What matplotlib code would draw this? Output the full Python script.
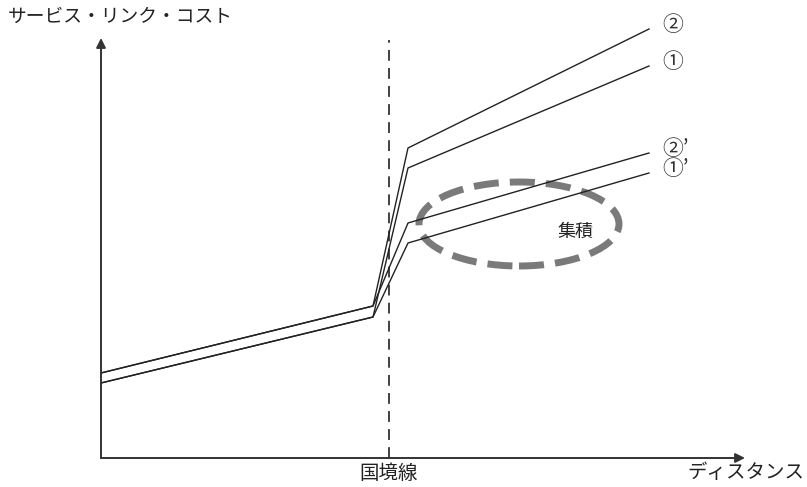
import matplotlib
matplotlib.use('Agg')
import matplotlib.pyplot as plt
from matplotlib.patches import Ellipse

plt.rcParams['font.family'] = ['Noto Sans CJK JP', 'DejaVu Sans']

# distance positions of the line vertices (axis origin = 0)
dist = [0, 272, 307, 548]
border_x = 288

# cost of each line at the vertices above
line_2 = [85, 152, 310, 429]
line_1 = [75, 141, 290, 392]
line_2p = [85, 152, 235, 305]
line_1p = [75, 141, 215, 285]

series = [
    ('②', line_2),
    ('①', line_1),
    ('②’', line_2p),
    ('①’', line_1p),
]

# agglomeration ellipse (centre, width, height)
cluster_center = (418, 234)
cluster_w = 200
cluster_h = 84

W, H = 807, 487
fig = plt.figure(figsize=(W / 100, H / 100), dpi=100)
ax = fig.add_axes([101 / W, 29 / H, 644 / W, 420 / H])
ax.set_xlim(0, 644)
ax.set_ylim(0, 420)
ax.axis('off')

# axes with arrows
ax.annotate('', xy=(1, 0), xytext=(0, 0), xycoords='axes fraction',
            arrowprops=dict(arrowstyle='-|>', color='#333333', lw=1.4,
                            mutation_scale=14, shrinkA=0, shrinkB=0))
ax.annotate('', xy=(0, 1), xytext=(0, 0), xycoords='axes fraction',
            arrowprops=dict(arrowstyle='-|>', color='#333333', lw=1.4,
                            mutation_scale=14, shrinkA=0, shrinkB=0))

# border line
ax.plot([border_x, border_x], [0, 418], color='#333333', lw=1.3,
        linestyle=(0, (6, 4)), clip_on=False)

for label, ys in series:
    ax.plot(dist, ys, color='#222222', lw=1.0, clip_on=False)
    ax.text(dist[-1] + 13, ys[-1] + 4, label, fontsize=15, ha='left',
            va='center', color='#333333', clip_on=False)

ell = Ellipse(cluster_center, cluster_w, cluster_h, fill=False,
              edgecolor='#7a7a7a', lw=5, linestyle=(0, (3.6, 1.6)))
ax.add_patch(ell)
ax.text(474, 226, '集積', fontsize=13, ha='center', va='center', color='#222222')

ax.text(-93, 442, 'サービス・リンク・コスト', fontsize=13.5, ha='left',
        va='center', color='#222222', clip_on=False)
ax.text(border_x, -15, '国境線', fontsize=14, ha='center', va='center',
        color='#222222', clip_on=False)
ax.text(703, -15, 'ディスタンス', fontsize=14, ha='right', va='center',
        color='#222222', clip_on=False)

plt.savefig('out.png', dpi=100)
